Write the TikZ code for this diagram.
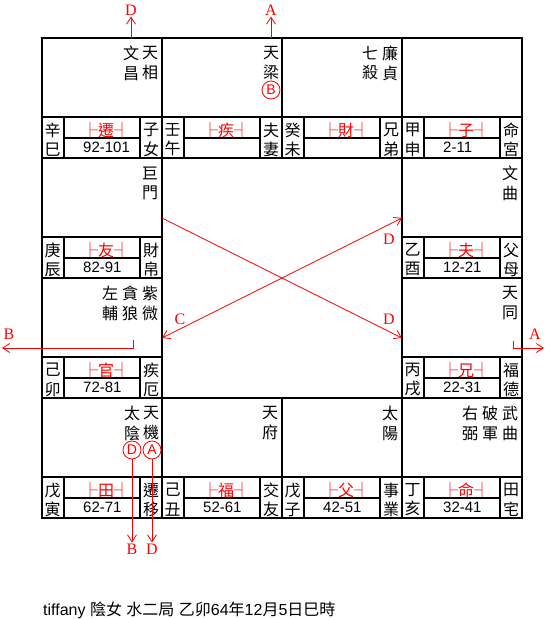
\documentclass[tikz,border=0pt]{standalone}
\usepackage{fontspec}
\setmainfont{Liberation Sans}
\newfontfamily\cjk{Noto Sans CJK TC}
\newfontfamily\markfont{Liberation Serif}
\usetikzlibrary{arrows.meta}
\newcommand\hanzi[1]{{\cjk\fontsize{16}{16}\selectfont #1}}

\begin{document}
\begin{tikzpicture}[x=1pt, y=-1pt,
  grid/.style={line width=2pt},
  star/.style={font=\cjk\fontsize{16}{19.5}\selectfont, align=center, inner sep=0pt},
  ganzhi/.style={font=\cjk\fontsize{16}{19.5}\selectfont, align=center, inner sep=0pt},
  pal/.style={font=\cjk\fontsize{16}{16}\selectfont, text=red, inner sep=0pt, anchor=west},
  age/.style={font=\fontsize{15}{15}\selectfont, inner sep=0pt, anchor=west},
  hua/.style={circle, draw=red, text=red, line width=0.8pt, minimum size=18pt,
              inner sep=0pt, font=\fontsize{14}{14}\selectfont},
  tag/.style={text=red, font=\markfont\fontsize{16}{16}\selectfont, inner sep=1pt},
  arr/.style={draw=red, line width=0.8pt, -{Straight Barb[length=7pt,width=9pt]}},
  arrboth/.style={draw=red, line width=0.8pt,
                  {Straight Barb[length=7pt,width=9pt]}-{Straight Barb[length=7pt,width=9pt]}}
]
\useasboundingbox (0,0) rectangle (550,619);

% the twelve palaces
\foreach \col/\row/\ga/\gb/\gong/\age/\na/\nb in {
  0/0/辛/巳/遷/92-101/子/女, 1/0/壬/午/疾//夫/妻, 2/0/癸/未/財//兄/弟, 3/0/甲/申/子/2-11/命/宮,
  0/1/庚/辰/友/82-91/財/帛, 3/1/乙/酉/夫/12-21/父/母,
  0/2/己/卯/官/72-81/疾/厄, 3/2/丙/戌/兄/22-31/福/德,
  0/3/戊/寅/田/62-71/遷/移, 1/3/己/丑/福/52-61/交/友, 2/3/戊/子/父/42-51/事/業, 3/3/丁/亥/命/32-41/田/宅}{
  \begin{scope}[shift={({42+120*\col},{38+120*\row})}]
    \draw[grid] (0,0) rectangle (120,120);
    \draw[grid] (0,79) -- (120,79) (22,79) -- (22,120) (98,79) -- (98,120) (22,100) -- (98,100);
    \node[ganzhi] (gz\col\row) at (10.5,101.75) {\ga\\\gb};
    \node[ganzhi] (pn\col\row) at (109,101.75) {\na\\\nb};
    \node[pal] (pl\col\row) at (40,92) {├\gong┤};
    \node[age] (ag\col\row) at (41,109) {\age};
  \end{scope}
}

% stars
\node[star] (tianxiang) at (150,63.25) {天\\相};
\node[star] (wenchang) at (131,63.25) {文\\昌};
\node[star] (tianliang) at (271,63.25) {天\\梁};
\node[hua] (huaB) at (271,90) {B};
\node[star] (lianzhen) at (390,63.25) {廉\\貞};
\node[star] (qisha) at (370,63.25) {七\\殺};
\node[star] (jumen) at (150,183.25) {巨\\門};
\node[star] (wenqu) at (510,183.25) {文\\曲};
\node[star] (ziwei) at (150,303.25) {紫\\微};
\node[star] (tanlang) at (130,303.25) {貪\\狼};
\node[star] (zuofu) at (110,303.25) {左\\輔};
\node[star] (tiantong) at (510,303.25) {天\\同};
\node[star] (tianji) at (151,423.25) {天\\機};
\node[star] (taiyin) at (132,423.25) {太\\陰};
\node[hua] (huaA) at (152,450) {A};
\node[hua] (huaD) at (132,450) {D};
\node[star] (tianfu) at (270,423.25) {天\\府};
\node[star] (taiyang) at (390,423.25) {太\\陽};
\node[star] (wuqu) at (510,423.25) {武\\曲};
\node[star] (pojun) at (490,423.25) {破\\軍};
\node[star] (youbi) at (470,423.25) {右\\弼};

% arrows out of the chart
\node[tag] (tagDtop) at (131,10) {D};
\node[tag] (tagAtop) at (271,10) {A};
\draw[arr] (wenchang |- 0,38) -- (tagDtop.south);
\draw[arr] (tianliang |- 0,38) -- (tagAtop.south);

\coordinate (bfrom) at (133,340);
\coordinate (bto) at (2,348);
\node[tag] (tagBleft) at (9,334) {B};
\draw[arr] (bfrom) |- (bto);
\coordinate (afrom) at (513,341);
\coordinate (ato) at (544,348);
\node[tag] (tagAright) at (535,334) {A};
\draw[arr] (afrom) |- (ato);

\node[tag] (tagBbot) at (132,549) {B};
\node[tag] (tagDbot) at (152,549) {D};
\draw[arr] (huaD) -- (tagBbot);
\draw[arr] (huaA) -- (tagDbot);

% across the middle
\coordinate (xw1) at (162,218);
\coordinate (xe1) at (402,338);
\coordinate (xe2) at (402,218);
\coordinate (xw2) at (162,338);
\draw[arr] (xw1) -- (xe1);
\draw[arrboth] (xw2) -- (xe2);
\node[tag] (tagDup) at (389,239) {D};
\node[tag] (tagDdown) at (389,319) {D};
\node[tag] (tagC) at (180,319) {C};

\node[anchor=base west, inner sep=0pt, font=\fontsize{16}{16}\selectfont] (info) at (43,615)
  {tiffany \hanzi{陰女} \hanzi{水二局} \hanzi{乙卯}64\hanzi{年}12\hanzi{月}5\hanzi{日巳時}};
\end{tikzpicture}
\end{document}
